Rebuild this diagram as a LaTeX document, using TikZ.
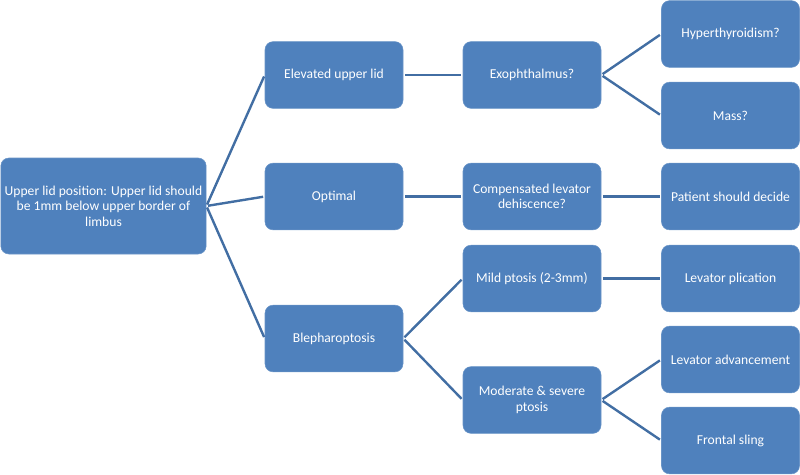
\documentclass[tikz,border=0pt]{standalone}
\usepackage{fontspec}
\setmainfont{Carlito}
\definecolor{boxblue}{HTML}{4F81BD}
\definecolor{lineblue}{HTML}{426EA3}
\newcommand{\boxfont}{\fontsize{10.2}{11.6}\selectfont\hyphenpenalty=10000\relax\exhyphenpenalty=10000\relax}
\tikzset{
  box/.style={draw=boxblue!85!white, line width=0.4pt, fill=boxblue, rounded corners=6pt,
    minimum width=103.5pt, minimum height=50pt, text=white, align=flush center,
    text width=98pt, font=\boxfont, inner sep=0pt},
  rootbox/.style={box, minimum width=154pt, minimum height=72pt, text width=154pt},
  link/.style={draw=lineblue, line width=1.8pt, shorten <=1.2pt, shorten >=1.2pt}
}
\begin{document}
\begin{tikzpicture}[x=0.75pt,y=-0.75pt]
\useasboundingbox (0,0) rectangle (800,475);
\node[rootbox] (root) at (103.5,206) {Upper lid position: Upper lid should be 1mm below upper border of limbus};
\node[box] (el) at (334,75) {Elevated upper lid};
\node[box] (opt) at (334,196.5) {Optimal};
\node[box] (bl) at (334,338.5) {Blepharoptosis};
\node[box] (ex) at (532,75) {Exophthalmus?};
\node[box] (comp) at (532,196.5) {Compensated levator dehiscence?};
\node[box] (mild) at (532,278.5) {Mild ptosis (2-3mm)};
\node[box] (mod) at (532,400) {Moderate \& severe ptosis};
\node[box] (hyp) at (730.5,34) {Hyperthyroidism?};
\node[box] (mass) at (730.5,115.5) {Mass?};
\node[box] (pat) at (730.5,196.5) {Patient should decide};
\node[box] (plic) at (730.5,278.5) {Levator plication};
\node[box] (adv) at (730.5,359.5) {Levator advancement};
\node[box] (sling) at (730.5,440.5) {Frontal sling};
\draw[link] (root.east) -- (el.west);
\draw[link] (root.east) -- (opt.west);
\draw[link] (root.east) -- (bl.west);
\draw[link] (el.east) -- (ex.west);
\draw[link] (opt.east) -- (comp.west);
\draw[link] (bl.east) -- (mild.west);
\draw[link] (bl.east) -- (mod.west);
\draw[link] (ex.east) -- (hyp.west);
\draw[link] (ex.east) -- (mass.west);
\draw[link] (comp.east) -- (pat.west);
\draw[link] (mild.east) -- (plic.west);
\draw[link] (mod.east) -- (adv.west);
\draw[link] (mod.east) -- (sling.west);
\end{tikzpicture}
\end{document}
